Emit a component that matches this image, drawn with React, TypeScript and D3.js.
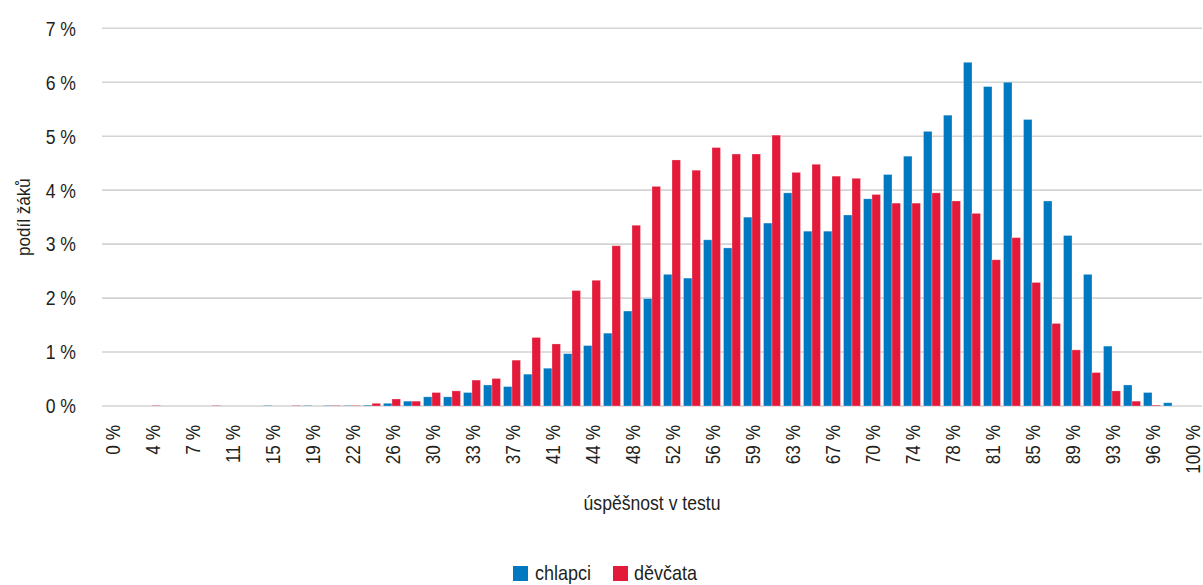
import React from "react";
import * as d3 from "d3";

const categories: string[] = [
  "0 %", "2 %", "4 %", "6 %", "7 %", "9 %", "11 %", "13 %", "15 %", "17 %",
  "19 %", "20 %", "22 %", "24 %", "26 %", "28 %", "30 %", "31 %", "33 %", "35 %",
  "37 %", "39 %", "41 %", "43 %", "44 %", "46 %", "48 %", "50 %", "52 %", "54 %",
  "56 %", "57 %", "59 %", "61 %", "63 %", "65 %", "67 %", "69 %", "70 %", "72 %",
  "74 %", "76 %", "78 %", "80 %", "81 %", "83 %", "85 %", "87 %", "89 %", "91 %",
  "93 %", "94 %", "96 %", "98 %", "100 %",
];

const chlapci: number[] = [
  0, 0, 0, 0, 0, 0, 0, 0, 0.005, 0,
  0.005, 0.005, 0.005, 0.01, 0.05, 0.09, 0.17, 0.17, 0.25, 0.39,
  0.36, 0.59, 0.7, 0.97, 1.12, 1.35, 1.76, 1.99, 2.44, 2.37,
  3.08, 2.93, 3.5, 3.39, 3.95, 3.24, 3.24, 3.54, 3.84, 4.29,
  4.63, 5.09, 5.39, 6.37, 5.92, 6.0, 5.31, 3.8, 3.16, 2.44,
  1.11, 0.39, 0.25, 0.06, 0,
];

const devcata: number[] = [
  0, 0, 0.005, 0, 0, 0.005, 0, 0, 0, 0.005,
  0, 0.005, 0.005, 0.05, 0.13, 0.09, 0.25, 0.28, 0.48, 0.51,
  0.85, 1.27, 1.15, 2.14, 2.33, 2.97, 3.35, 4.07, 4.56, 4.37,
  4.79, 4.67, 4.67, 5.02, 4.33, 4.48, 4.26, 4.22, 3.92, 3.76,
  3.76, 3.95, 3.8, 3.57, 2.71, 3.12, 2.29, 1.53, 1.04, 0.62,
  0.28, 0.09, 0.01, 0, 0,
];

const seriesNames: string[] = ["chlapci", "děvčata"];
const seriesColors: string[] = ["#0079c1", "#e41a3a"];
const yTicks: number[] = [0, 1, 2, 3, 4, 5, 6, 7];

const W = 1203;
const H = 585;
const FONT = "'Liberation Sans', Arial, sans-serif";
const TEXT = "#231f20";

export default function App() {
  const left = 102;
  const right = 1202;
  const top = 28.3;
  const bottom = 406;

  const x = d3.scaleBand<string>().domain(categories).range([left, right]).paddingInner(0.15).paddingOuter(0.075);
  const xs = d3.scaleBand<string>().domain(seriesNames).range([0, x.bandwidth()]).paddingInner(0);
  const y = d3.scaleLinear().domain([0, 7]).range([bottom, top]);

  const seriesData = [chlapci, devcata];

  return (
    <svg width={W} height={H} style={{ position: "absolute", left: 0, top: 0, background: "#fff" }} fontFamily={FONT}>
      {yTicks.map((t) => (
        <g key={"g" + t}>
          <line x1={left} x2={right} y1={y(t)} y2={y(t)} stroke="#d3d3d3" strokeWidth={1.6} />
          <text
            transform={`translate(76,${y(t)}) scale(0.84,1)`}
            dy="0.35em"
            textAnchor="end"
            fontSize={21}
            fill={TEXT}
          >
            {t + " %"}
          </text>
        </g>
      ))}

      {seriesData.map((vals, si) => (
        <g key={"s" + si} fill={seriesColors[si]}>
          {vals.map((v, i) => {
            if (v <= 0) return null;
            const x0 = (x(categories[i]) as number) + (xs(seriesNames[si]) as number);
            const h = y(0) - y(v);
            return (
              <rect
                key={i}
                x={x0}
                y={y(v)}
                width={xs.bandwidth()}
                height={h}
                stroke={h > 1.5 ? "rgba(255,255,255,0.35)" : "none"}
                strokeWidth={0.8}
              />
            );
          })}
        </g>
      ))}

      {categories.map((c, i) =>
        i % 2 === 0 ? (
          <text
            key={"xl" + i}
            transform={`translate(${(x(c) as number) + x.bandwidth() / 2},425) rotate(-90) scale(0.82,1)`}
            dy="0.36em"
            textAnchor="end"
            fontSize={21}
            fill={TEXT}
          >
            {c}
          </text>
        ) : null
      )}

      <text
        transform={`translate(${(left + right) / 2},510) scale(0.88,1)`}
        textAnchor="middle"
        fontSize={20}
        fill={TEXT}
      >
        úspěšnost v testu
      </text>

      <text
        transform={`translate(30,${(top + bottom) / 2}) rotate(-90) scale(0.9,1)`}
        textAnchor="middle"
        fontSize={19}
        fill={TEXT}
      >
        podíl žáků
      </text>

      <g>
        <rect x={513} y={566} width={15} height={15} fill={seriesColors[0]} />
        <text transform="translate(535,580) scale(0.9,1)" fontSize={20} fill={TEXT}>
          {seriesNames[0]}
        </text>
        <rect x={613} y={566} width={15} height={15} fill={seriesColors[1]} />
        <text transform="translate(634,580) scale(0.9,1)" fontSize={20} fill={TEXT}>
          {seriesNames[1]}
        </text>
      </g>
    </svg>
  );
}
